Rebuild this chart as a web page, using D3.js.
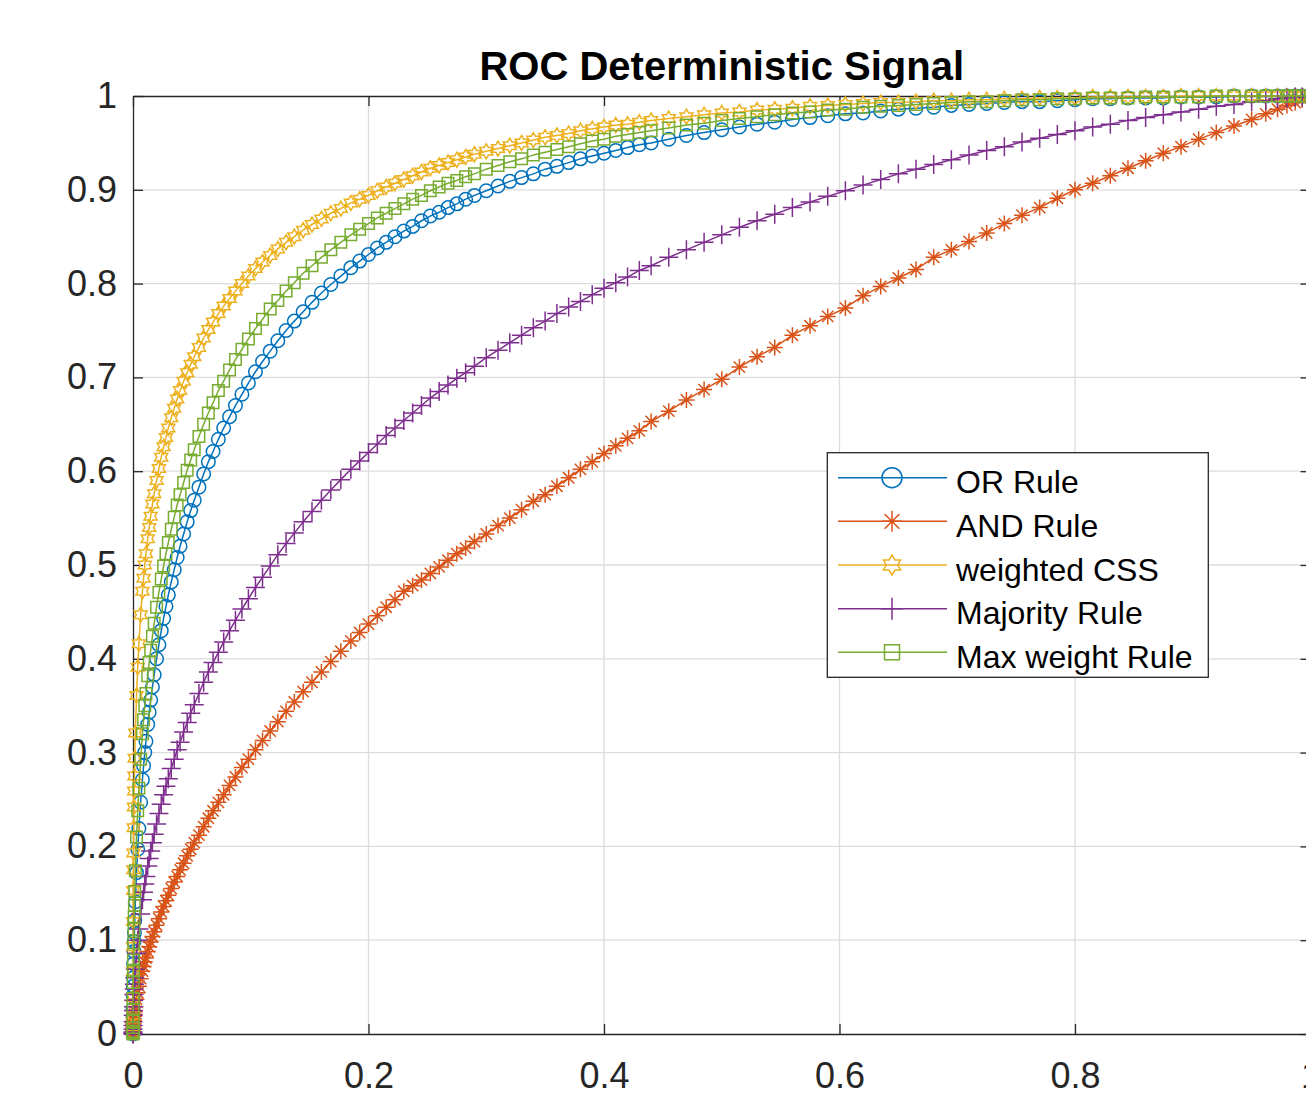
<!DOCTYPE html>
<html>
<head>
<meta charset="utf-8">
<script src="https://cdn.jsdelivr.net/npm/d3@7"></script>
<style>
html,body{margin:0;padding:0;background:#fff;}
svg{display:block;}
</style>
</head>
<body>
<svg id="chart" width="1306" height="1100"></svg>
<script>
// ---------------- data ----------------
const pf = [
0,0.0000001,0.000001,0.000005,0.00002,0.00005,0.0001,0.0002,0.0003,0.0004,
0.0006,0.0008,0.001,0.0012,0.0015,0.002,0.003,0.004,0.005,0.0065,
0.008,0.009,0.01,0.011,0.0125,0.01375,0.015,0.0165,0.018,0.02,
0.022,0.024,0.026,0.028,0.03,0.0325,0.035,0.0375,0.04,0.043,
0.046,0.049,0.052,0.056,0.06,0.064,0.068,0.0725,0.077,0.082,
0.087,0.0925,0.098,0.104,0.11,0.1165,0.123,0.13,0.137,0.1445,
0.152,0.16,0.168,0.1765,0.185,0.1925,0.2,0.2075,0.215,0.2225,
0.23,0.2375,0.245,0.2525,0.26,0.2675,0.275,0.2825,0.29,
0.3,0.31,0.32,0.33,0.34,0.35,0.36,0.37,0.38,0.39,0.4,0.41,0.42,0.43,0.44,
0.455,0.47,0.485,0.5,0.515,0.53,0.545,0.56,0.575,0.59,
0.605,0.62,0.635,0.65,0.665,0.68,0.695,0.71,0.725,0.74,
0.755,0.77,0.785,0.8,0.815,0.83,0.845,0.86,0.875,0.89,
0.905,0.92,0.935,0.95,0.962,0.972,0.98,0.987,0.993,1];

const pdOR = [
0,0.0003,0.002,0.004,0.011,0.018,0.027,0.041,0.051,0.060,
0.075,0.088,0.099,0.108,0.121,0.141,0.172,0.197,0.219,0.247,
0.271,0.286,0.300,0.312,0.330,0.343,0.356,0.370,0.383,0.400,
0.415,0.430,0.443,0.456,0.468,0.482,0.495,0.508,0.520,0.533,
0.546,0.558,0.569,0.583,0.597,0.610,0.621,0.634,0.646,0.658,
0.670,0.682,0.694,0.706,0.717,0.728,0.739,0.750,0.760,0.770,
0.780,0.790,0.799,0.808,0.817,0.824,0.831,0.838,0.844,0.850,
0.856,0.861,0.867,0.872,0.876,0.881,0.885,0.890,0.894,
0.899,0.904,0.909,0.913,0.917,0.922,0.925,0.929,0.933,0.936,0.939,0.942,0.945,0.948,0.950,
0.954,0.958,0.961,0.964,0.967,0.970,0.972,0.975,0.977,0.979,
0.981,0.982,0.984,0.986,0.987,0.988,0.990,0.991,0.992,0.993,
0.994,0.994,0.995,0.996,0.997,0.997,0.998,0.998,0.998,0.999,
0.999,0.999,1,1,1,1,1,1,1,1];

const pdAND = [
0,0.0001,0.0002,0.001,0.002,0.003,0.005,0.007,0.009,0.011,
0.014,0.016,0.019,0.021,0.024,0.029,0.037,0.044,0.051,0.059,
0.067,0.072,0.077,0.081,0.088,0.093,0.098,0.104,0.109,0.116,
0.123,0.130,0.136,0.142,0.148,0.155,0.162,0.168,0.175,0.182,
0.190,0.197,0.204,0.212,0.221,0.230,0.238,0.247,0.255,0.265,
0.274,0.284,0.293,0.303,0.313,0.323,0.333,0.344,0.354,0.365,
0.375,0.386,0.397,0.408,0.419,0.428,0.437,0.446,0.455,0.463,
0.472,0.478,0.484,0.491,0.498,0.505,0.512,0.518,0.525,
0.533,0.542,0.550,0.559,0.568,0.575,0.584,0.593,0.602,0.610,0.619,0.627,0.635,0.643,0.653,
0.664,0.676,0.687,0.698,0.711,0.722,0.732,0.745,0.755,0.765,
0.774,0.787,0.797,0.806,0.815,0.828,0.836,0.845,0.854,0.864,
0.873,0.881,0.891,0.900,0.907,0.915,0.923,0.931,0.939,0.946,
0.954,0.961,0.968,0.975,0.981,0.986,0.990,0.993,0.996,1];

const pdWeighted = [
0,0.008,0.020,0.039,0.067,0.093,0.120,0.153,0.175,0.193,
0.220,0.242,0.259,0.275,0.294,0.321,0.361,0.391,0.416,0.447,
0.472,0.486,0.500,0.512,0.528,0.540,0.552,0.565,0.576,0.590,
0.603,0.615,0.626,0.636,0.646,0.657,0.667,0.677,0.686,0.696,
0.705,0.714,0.722,0.732,0.742,0.751,0.759,0.768,0.776,0.784,
0.792,0.800,0.808,0.816,0.823,0.830,0.837,0.844,0.850,0.857,
0.863,0.869,0.875,0.880,0.886,0.890,0.894,0.899,0.903,0.907,
0.911,0.915,0.919,0.923,0.926,0.929,0.932,0.935,0.938,
0.941,0.944,0.947,0.950,0.953,0.956,0.958,0.960,0.963,0.965,0.967,0.969,0.970,0.972,0.974,
0.976,0.978,0.980,0.982,0.983,0.985,0.986,0.987,0.989,0.990,
0.991,0.992,0.993,0.993,0.994,0.995,0.995,0.996,0.996,0.997,
0.997,0.998,0.998,0.998,0.999,0.999,0.999,0.999,0.999,1,
1,1,1,1,1,1,1,1,1,1];

const pdMajority = [
0,0.0002,0.001,0.002,0.005,0.009,0.013,0.020,0.025,0.029,
0.036,0.042,0.048,0.053,0.060,0.069,0.086,0.100,0.112,0.128,
0.143,0.151,0.160,0.168,0.179,0.187,0.195,0.204,0.213,0.224,
0.235,0.245,0.255,0.264,0.272,0.283,0.293,0.303,0.311,0.322,
0.332,0.342,0.351,0.363,0.375,0.386,0.396,0.407,0.418,0.430,
0.441,0.453,0.464,0.476,0.487,0.499,0.511,0.523,0.534,0.546,
0.557,0.569,0.580,0.591,0.602,0.611,0.620,0.629,0.638,0.646,
0.654,0.662,0.670,0.678,0.685,0.692,0.699,0.705,0.712,
0.721,0.729,0.737,0.745,0.753,0.760,0.768,0.775,0.781,0.788,0.795,0.801,0.807,0.814,0.819,
0.828,0.836,0.844,0.852,0.860,0.867,0.874,0.881,0.887,0.893,
0.899,0.905,0.911,0.917,0.922,0.927,0.932,0.937,0.942,0.946,
0.951,0.955,0.959,0.963,0.967,0.970,0.974,0.977,0.980,0.983,
0.986,0.989,0.991,0.994,0.995,0.997,0.998,0.999,0.999,1];

const pdMaxWeight = [
0,0.001,0.003,0.007,0.015,0.026,0.038,0.055,0.068,0.079,
0.097,0.112,0.125,0.137,0.152,0.174,0.210,0.238,0.262,0.293,
0.320,0.335,0.350,0.363,0.382,0.396,0.409,0.424,0.438,0.455,
0.471,0.485,0.499,0.512,0.524,0.538,0.551,0.564,0.575,0.588,
0.601,0.612,0.623,0.637,0.650,0.662,0.673,0.686,0.696,0.708,
0.719,0.730,0.741,0.752,0.762,0.773,0.782,0.792,0.801,0.811,
0.819,0.828,0.836,0.844,0.852,0.858,0.864,0.870,0.875,0.880,
0.885,0.890,0.894,0.899,0.903,0.907,0.910,0.914,0.917,
0.922,0.926,0.930,0.933,0.937,0.940,0.943,0.946,0.949,0.952,0.954,0.957,0.959,0.961,0.963,
0.966,0.969,0.971,0.974,0.976,0.978,0.980,0.982,0.983,0.985,
0.986,0.988,0.989,0.990,0.991,0.992,0.993,0.994,0.994,0.995,
0.996,0.996,0.997,0.997,0.998,0.998,0.998,0.999,0.999,0.999,
0.999,1,1,1,1,1,1,1,1,1];

const seriesNames = ["OR Rule", "AND Rule", "weighted CSS", "Majority Rule", "Max weight Rule"];
const xTicks = [0, 0.2, 0.4, 0.6, 0.8, 1];
const yTicks = [0, 0.1, 0.2, 0.3, 0.4, 0.5, 0.6, 0.7, 0.8, 0.9, 1];
const titleText = "ROC Deterministic Signal";

// ---------------- styling ----------------
const colors = ["#0072BD", "#D95319", "#EDB120", "#7E2F8E", "#77AC30"];
const FONT = "'Liberation Sans', Arial, Helvetica, sans-serif";
const AXIS_COLOR = "#262626";
const GRID_COLOR = "#dcdcdc";
const LW = 1.3;      // axes / grid
const DLW = 1.5;     // data lines and markers

// custom marker geometries for d3.symbol (size = diameter^2)
const symCircle = { draw(c, s) { const r = Math.sqrt(s) / 2; c.moveTo(r, 0); c.arc(0, 0, r, 0, 2 * Math.PI); c.closePath(); } };
const symSquare = { draw(c, s) { const h = Math.sqrt(s) / 2; c.rect(-h, -h, 2 * h, 2 * h); } };
const symPlus = { draw(c, s) { const h = Math.sqrt(s) / 2; c.moveTo(-h, 0); c.lineTo(h, 0); c.moveTo(0, -h); c.lineTo(0, h); } };
const symAsterisk = { draw(c, s) {
  const h = Math.sqrt(s) / 2, d = h * Math.SQRT1_2;
  c.moveTo(-h, 0); c.lineTo(h, 0); c.moveTo(0, -h); c.lineTo(0, h);
  c.moveTo(-d, -d); c.lineTo(d, d); c.moveTo(-d, d); c.lineTo(d, -d);
} };
const symHexagram = { draw(c, s) {
  const R = Math.sqrt(s) / 2, r = R / Math.sqrt(3);
  for (let i = 0; i < 12; i++) {
    const a = -Math.PI / 2 + i * Math.PI / 6;
    const rr = (i % 2 === 0) ? R : r;
    const px = rr * Math.cos(a), py = rr * Math.sin(a);
    if (i === 0) c.moveTo(px, py); else c.lineTo(px, py);
  }
  c.closePath();
} };

const series = [
  { name: seriesNames[0], pd: pdOR,        color: colors[0], sym: symCircle,   size: 13.5, lsize: 20 },
  { name: seriesNames[1], pd: pdAND,       color: colors[1], sym: symAsterisk, size: 16,   lsize: 21 },
  { name: seriesNames[2], pd: pdWeighted,  color: colors[2], sym: symHexagram, size: 15,   lsize: 20 },
  { name: seriesNames[3], pd: pdMajority,  color: colors[3], sym: symPlus,     size: 19,   lsize: 22 },
  { name: seriesNames[4], pd: pdMaxWeight, color: colors[4], sym: symSquare,   size: 11.5, lsize: 15 }
];

// ---------------- layout ----------------
const svg = d3.select("#chart");
const X0 = 133, X1 = 1310.5, Y0 = 96, Y1 = 1034;
const x = d3.scaleLinear().domain([0, 1]).range([X0, X1]);
const y = d3.scaleLinear().domain([0, 1]).range([Y1, Y0]);

// grid
const grid = svg.append("g").attr("class", "grid");
grid.selectAll("line.gx").data(xTicks.filter(d => d > 0 && d < 1)).join("line")
  .attr("x1", d => x(d)).attr("x2", d => x(d)).attr("y1", Y0).attr("y2", Y1)
  .attr("stroke", GRID_COLOR).attr("stroke-width", LW);
grid.selectAll("line.gy").data(yTicks.filter(d => d > 0 && d < 1)).join("line")
  .attr("y1", d => y(d)).attr("y2", d => y(d)).attr("x1", X0).attr("x2", X1)
  .attr("stroke", GRID_COLOR).attr("stroke-width", LW);

// axes
function styleAxis(g) {
  g.attr("font-family", FONT).attr("font-size", 36);
  g.selectAll("path, line").attr("stroke", AXIS_COLOR).attr("stroke-width", LW);
  g.selectAll("text").attr("fill", AXIS_COLOR);
}
svg.append("g").attr("transform", `translate(0,${Y1})`)
  .call(d3.axisBottom(x).tickValues(xTicks).tickFormat(d => String(d))
    .tickSizeInner(-10).tickSizeOuter(0).tickPadding(28))
  .call(styleAxis);
svg.append("g").attr("transform", `translate(${X0},0)`)
  .call(d3.axisLeft(y).tickValues(yTicks).tickFormat(d => String(d))
    .tickSizeInner(-10).tickSizeOuter(0).tickPadding(16))
  .call(styleAxis);
svg.append("g").attr("transform", `translate(0,${Y0})`)
  .call(d3.axisTop(x).tickValues(xTicks).tickFormat("")
    .tickSizeInner(-10).tickSizeOuter(0))
  .call(styleAxis);
svg.append("g").attr("transform", `translate(${X1},0)`)
  .call(d3.axisRight(y).tickValues(yTicks).tickFormat("")
    .tickSizeInner(-10).tickSizeOuter(0))
  .call(styleAxis);

// series
const line = d3.line().x(d => x(d[0])).y(d => y(d[1]));
series.forEach(s => {
  const pts = pf.map((v, i) => [v, s.pd[i]]);
  const g = svg.append("g").attr("class", "series");
  g.append("path").datum(pts).attr("d", line)
    .attr("fill", "none").attr("stroke", s.color).attr("stroke-width", DLW)
    .attr("stroke-linejoin", "round");
  const sym = d3.symbol().type(s.sym).size(s.size * s.size);
  g.selectAll("path.m").data(pts).join("path").attr("class", "m")
    .attr("transform", d => `translate(${x(d[0])},${y(d[1])})`)
    .attr("d", sym)
    .attr("fill", "none").attr("stroke", s.color).attr("stroke-width", DLW);
});

// title
svg.append("text").attr("x", (X0 + X1) / 2).attr("y", 80)
  .attr("text-anchor", "middle").attr("font-family", FONT)
  .attr("font-size", 40).attr("font-weight", "bold").attr("fill", "#000")
  .text(titleText);

// legend
const LX = 827.3, LY = 452.7, LW_BOX = 381, LH = 224.6;
const leg = svg.append("g").attr("class", "legend");
leg.append("rect").attr("x", LX).attr("y", LY).attr("width", LW_BOX).attr("height", LH)
  .attr("fill", "#fff").attr("stroke", AXIS_COLOR).attr("stroke-width", LW);
const rowY = i => 477.7 + i * 43.65;
const items = leg.selectAll("g.item").data(series).join("g").attr("class", "item");
items.append("line").attr("x1", 838).attr("x2", 947)
  .attr("y1", (d, i) => rowY(i)).attr("y2", (d, i) => rowY(i))
  .attr("stroke", d => d.color).attr("stroke-width", DLW);
items.append("path")
  .attr("transform", (d, i) => `translate(892,${rowY(i)})`)
  .attr("d", d => d3.symbol().type(d.sym).size(d.lsize * d.lsize)())
  .attr("fill", "none").attr("stroke", d => d.color).attr("stroke-width", DLW);
items.append("text").attr("x", 956).attr("y", (d, i) => rowY(i) + 15.5)
  .attr("font-family", FONT).attr("font-size", 32).attr("fill", "#000")
  .text(d => d.name);
</script>
</body>
</html>
